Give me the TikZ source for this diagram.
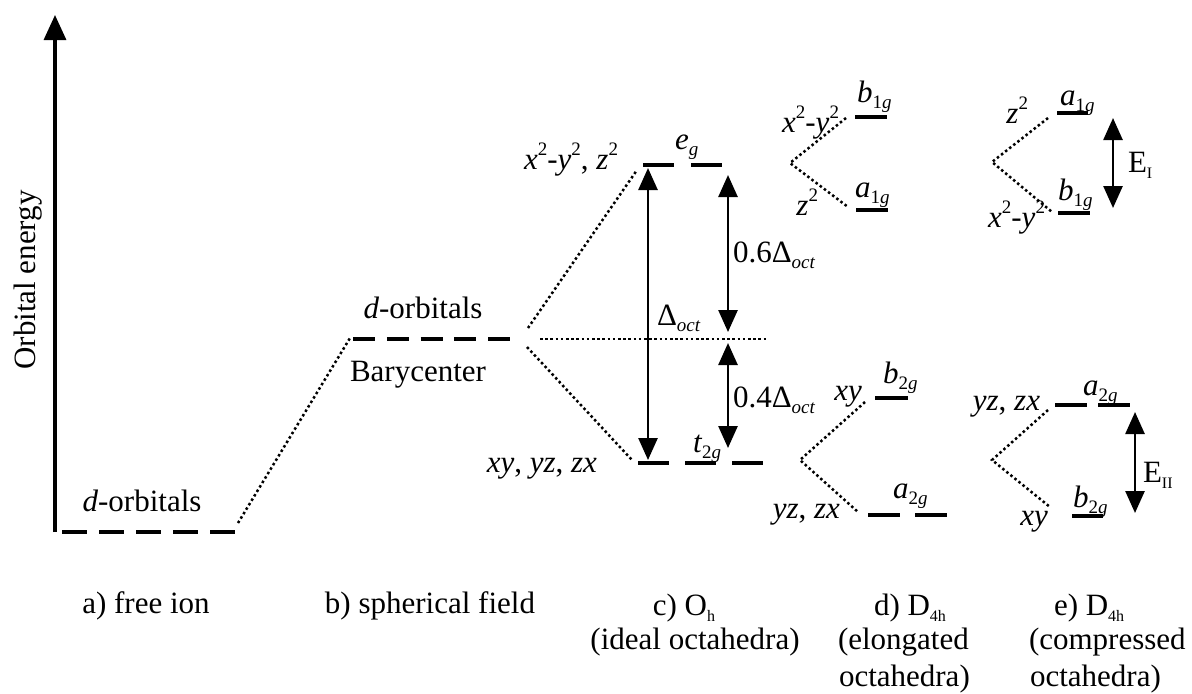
\documentclass[tikz,border=0pt]{standalone}
\usepackage{fontspec}
\setmainfont{Liberation Serif}
\usepackage{tikz}
\usetikzlibrary{arrows.meta, positioning}
\newcommand{\lsub}[1]{\raisebox{-0.45ex}{\fontsize{9.5}{10}\selectfont #1}}
\newcommand{\tsub}[1]{\raisebox{-0.45ex}{\fontsize{8}{9}\selectfont #1}}
\newcommand{\lsup}[1]{\raisebox{0.95ex}{\fontsize{9.5}{10}\selectfont #1}}
\newcommand{\doct}{Δ\lsub{\textit{oct}}}

\begin{document}
\begin{tikzpicture}[
        x=0.5pt, y=-0.5pt,
        font=\fontsize{15.5}{18}\selectfont,
        >={Triangle[length=11pt, width=9.5pt]},
        lbl/.style={inner sep=0pt, outer sep=0pt},
        level/.style={line width=1.7pt},
        link/.style={line width=1.25pt, dash pattern=on 1.25pt off 1.35pt},
        gap/.style={line width=1.3pt, <->},
      ]
      \useasboundingbox (0,0) rectangle (1192,693);

      % energy axis
      \coordinate (axis-lo) at (55,532);
      \coordinate (axis-hi) at (55,15);
      \draw[line width=1.6pt, ->, >={Triangle[length=12.5pt, width=11pt]}] (axis-lo) -- (axis-hi);
      \node[lbl, rotate=90] (axislbl) at (28,280) {Orbital energy};

      % a) free ion
      \coordinate (free-l) at (62,532);
      \coordinate (free-r) at (235,532);
      \draw[level, dash pattern=on 12.5pt off 6pt] (free-l) -- (free-r);
      \node[lbl, anchor=base] (freelbl) at (142,511) {\textit{d}-orbitals};

      % b) spherical field
      \coordinate (sph-l) at (353,339);
      \coordinate (sph-r) at (510,339);
      \draw[level, dash pattern=on 11pt off 5.9pt] (sph-l) -- (sph-r);
      \node[lbl, anchor=base] (sphlbl) at (423,318) {\textit{d}-orbitals};
      \node[lbl, anchor=base] (bary) at (418,381) {Barycenter};

      % c) Oh
      \coordinate (eg-l) at (643,165);
      \coordinate (eg-r) at (722,165);
      \coordinate (t2g-l) at (638,463);
      \coordinate (t2g-r) at (764,463);
      \draw[level, dash pattern=on 15.5pt off 8.5pt] (eg-l) -- (eg-r);
      \draw[level, dash pattern=on 15.5pt off 8pt] (t2g-l) -- (t2g-r);
      \node[lbl, anchor=base west] (eg) at (675,149) {\textit{e}\lsub{\textit{g}}};
      \node[lbl, anchor=base west] (t2g) at (693,452) {\textit{t}\lsub{2\textit{g}}};
      \node[lbl, anchor=base east] (egorb) at (618,169)
        {\textit{x}\lsup{2}-\textit{y}\lsup{2}, \textit{z}\lsup{2}};
      \node[lbl, anchor=base east] (t2gorb) at (597,472) {\textit{xy}, \textit{yz}, \textit{zx}};

      \coordinate (free-up) at (238,523);
      \coordinate (sph-dn) at (350,338);
      \coordinate (sph-a) at (528,328);
      \coordinate (sph-b) at (527,347);
      \coordinate (eg-in) at (637,170);
      \coordinate (t2g-in) at (632,460);
      \coordinate (bary-l) at (540,339);
      \coordinate (bary-r) at (767,339);
      \draw[link] (free-up) -- (sph-dn);
      \draw[link] (sph-a) -- (eg-in);
      \draw[link] (sph-b) -- (t2g-in);
      \draw[link] (bary-l) -- (bary-r);

      \coordinate (oct-hi) at (648,168);
      \coordinate (oct-lo) at (648,460);
      \coordinate (six-hi) at (728,175);
      \coordinate (six-lo) at (728,332);
      \coordinate (four-hi) at (728,343);
      \coordinate (four-lo) at (728,448);
      \draw[gap] (oct-hi) -- (oct-lo);
      \draw[gap] (six-hi) -- (six-lo);
      \draw[gap] (four-hi) -- (four-lo);
      \node[lbl, anchor=base west] (octlbl) at (657,325) {\doct};
      \node[lbl, anchor=base west] (sixlbl) at (733,262) {0.6\doct};
      \node[lbl, anchor=base west] (fourlbl) at (733,407) {0.4\doct};

      % d) D4h elongated
      \coordinate (eb1g-l) at (855,117);
      \coordinate (eb1g-r) at (887,117);
      \coordinate (ea1g-l) at (856,210);
      \coordinate (ea1g-r) at (888,210);
      \coordinate (eb2g-l) at (875,398);
      \coordinate (eb2g-r) at (908,398);
      \coordinate (ea2g-l) at (868,515);
      \coordinate (ea2g-r) at (948,515);
      \draw[level] (eb1g-l) -- (eb1g-r);
      \draw[level] (ea1g-l) -- (ea1g-r);
      \draw[level] (eb2g-l) -- (eb2g-r);
      \draw[level, dash pattern=on 16pt off 7.5pt] (ea2g-l) -- (ea2g-r);
      \draw[link] (846,118) coordinate (e1-a) -- (790,163) coordinate (e1-m) -- (848,207) coordinate (e1-b);
      \draw[link] (865,402) coordinate (e2-a) -- (800,460) coordinate (e2-m) -- (858,512) coordinate (e2-b);
      \node[lbl, anchor=base west] (eb1g) at (857,102) {\textit{b}\lsub{1\textit{g}}};
      \node[lbl, anchor=base east] (eb1gorb) at (839,132) {\textit{x}\lsup{2}-\textit{y}\lsup{2}};
      \node[lbl, anchor=base west] (ea1g) at (855,197) {\textit{a}\lsub{1\textit{g}}};
      \node[lbl, anchor=base east] (ea1gorb) at (818,215) {\textit{z}\lsup{2}};
      \node[lbl, anchor=base west] (eb2g) at (883,383) {\textit{b}\lsub{2\textit{g}}};
      \node[lbl, anchor=base east] (eb2gorb) at (862,400) {\textit{xy}};
      \node[lbl, anchor=base west] (ea2g) at (893,498) {\textit{a}\lsub{2\textit{g}}};
      \node[lbl, anchor=base east] (ea2gorb) at (840,518) {\textit{yz}, \textit{zx}};

      % e) D4h compressed
      \coordinate (ca1g-l) at (1057,113);
      \coordinate (ca1g-r) at (1088,113);
      \coordinate (cb1g-l) at (1058,213);
      \coordinate (cb1g-r) at (1090,213);
      \coordinate (ca2g-l) at (1055,405);
      \coordinate (ca2g-r) at (1130,405);
      \coordinate (cb2g-l) at (1072,516);
      \coordinate (cb2g-r) at (1103,516);
      \draw[level] (ca1g-l) -- (ca1g-r);
      \draw[level] (cb1g-l) -- (cb1g-r);
      \draw[level, dash pattern=on 16pt off 5.5pt] (ca2g-l) -- (ca2g-r);
      \draw[level] (cb2g-l) -- (cb2g-r);
      \draw[link] (1048,118) coordinate (c1-a) -- (992,162) coordinate (c1-m) -- (1052,212) coordinate (c1-b);
      \draw[link] (1048,410) coordinate (c2-a) -- (992,460) coordinate (c2-m) -- (1050,507) coordinate (c2-b);
      \node[lbl, anchor=base west] (ca1g) at (1060,105) {\textit{a}\lsub{1\textit{g}}};
      \node[lbl, anchor=base east] (ca1gorb) at (1028,123) {\textit{z}\lsup{2}};
      \node[lbl, anchor=base west] (cb1g) at (1058,200) {\textit{b}\lsub{1\textit{g}}};
      \node[lbl, anchor=base east] (cb1gorb) at (1045,227) {\textit{x}\lsup{2}-\textit{y}\lsup{2}};
      \node[lbl, anchor=base west] (ca2g) at (1083,395) {\textit{a}\lsub{2\textit{g}}};
      \node[lbl, anchor=base east] (ca2gorb) at (1040,410) {\textit{yz}, \textit{zx}};
      \node[lbl, anchor=base west] (cb2g) at (1073,507) {\textit{b}\lsub{2\textit{g}}};
      \node[lbl, anchor=base east] (cb2gorb) at (1048,525) {\textit{xy}};
      \coordinate (ei-hi) at (1113,118);
      \coordinate (ei-lo) at (1113,208);
      \coordinate (eii-hi) at (1135,412);
      \coordinate (eii-lo) at (1135,513);
      \draw[gap] (ei-hi) -- (ei-lo);
      \draw[gap] (eii-hi) -- (eii-lo);
      \node[lbl, anchor=base west] (eilbl) at (1128,172) {E\tsub{I}};
      \node[lbl, anchor=base west] (eiilbl) at (1143,482) {E\tsub{II}};

      % captions
      \node[lbl, anchor=base] (capa) at (146,613) {a) free ion};
      \node[lbl, anchor=base] (capb) at (430,613) {b) spherical field};
      \node[lbl, anchor=base] (capc) at (684,615) {c) O\tsub{h}};
      \node[lbl, anchor=base] (capc2) at (695,649) {(ideal octahedra)};
      \node[lbl, anchor=base west] (capd) at (874,615) {d) D\tsub{4h}};
      \node[lbl, anchor=base west] (capd2) at (838,649) {(elongated};
      \node[lbl, anchor=base west] (capd3) at (839,686) {octahedra)};
      \node[lbl, anchor=base west] (cape) at (1054,615) {e) D\tsub{4h}};
      \node[lbl, anchor=base west] (cape2) at (1029,649) {(compressed};
      \node[lbl, anchor=base west] (cape3) at (1030,686) {octahedra)};
    \end{tikzpicture}
\end{document}
